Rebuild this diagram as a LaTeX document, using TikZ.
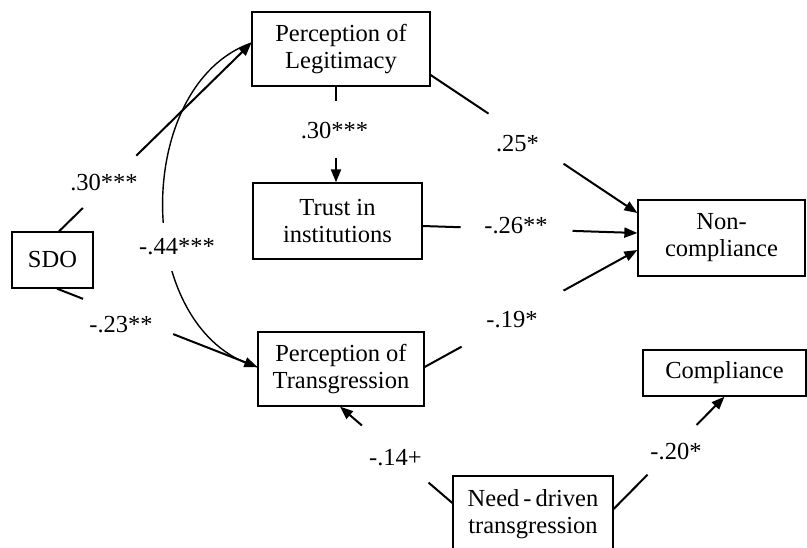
\documentclass[tikz,border=0pt]{standalone}
\usepackage{fontspec}
\setmainfont{Liberation Serif}
\usetikzlibrary{arrows.meta,calc}
\begin{document}
\begin{tikzpicture}[x=1pt,y=-1pt,
  box/.style={draw,line width=1.3pt,inner sep=0pt,align=center,font=\fontsize{24.5}{27}\selectfont},
  lab/.style={inner sep=0pt,font=\fontsize{24.5}{27}\selectfont},
  conn/.style={line width=2pt},
  arr/.style={line width=2pt,-{Triangle[length=13pt,width=10pt]}},
  curv/.style={line width=1.4pt},
]
\fill[white] (0,0) rectangle (807,547);
\path[use as bounding box] (0,0) rectangle (807,547);
\clip (0,0) rectangle (807,547);

% boxes
\node[box,minimum width=178pt,minimum height=74pt] (leg) at (341,49) {Perception of\\Legitimacy};
\node[box,minimum width=169pt,minimum height=76pt] (trust) at (337.5,221) {Trust in\\institutions};
\node[box,minimum width=167pt,minimum height=76pt] (nc) at (721.5,238) {Non-\\compliance};
\node[box,minimum width=81pt,minimum height=56pt] (sdo) at (52.5,260) {SDO};
\node[box,minimum width=166pt,minimum height=74pt] (trans) at (341,369) {Perception of\\Transgression};
\node[box,minimum width=163pt,minimum height=46pt] (comp) at (724.5,373) {Compliance};
\node[box,minimum width=160pt,minimum height=76pt] (need) at (533,514) {Need\,-\,driven\\transgression};

% end points
\coordinate (a1) at ($(sdo.north)+(6.5,0)$);
\coordinate (b1) at ($(leg.west)+(0,-6)$);
\coordinate (a3) at ($(sdo.south)+(4.5,0)$);
\coordinate (b3) at ($(trans.west)+(0,-2)$);
\coordinate (a4) at ($(leg.south)+(-5,0)$);
\coordinate (b4) at ($(trust.north)+(-1.5,0)$);
\coordinate (a5) at ($(leg.east)+(0,26)$);
\coordinate (b5) at ($(nc.west)+(0,-25)$);
\coordinate (a6) at ($(trust.east)+(0,5)$);
\coordinate (b6) at ($(nc.west)+(0,-5)$);
\coordinate (a7) at ($(trans.east)+(0,-2)$);
\coordinate (b7) at ($(nc.west)+(0,12)$);
\coordinate (a8) at ($(need.west)+(0,-11)$);
\coordinate (b8) at ($(trans.south)+(-1,0)$);
\coordinate (a9) at ($(need.east)+(0,-5)$);
\coordinate (b9) at (comp.south);

% gaps
\path (a1) -- (b1) coordinate[pos=0.124] (g1a) coordinate[pos=0.402] (g1b);
\path (a3) -- (b3) coordinate[pos=0.13] (g3a) coordinate[pos=0.58] (g3b);
\path (a4) -- (b4) coordinate[pos=0.155] (g4a) coordinate[pos=0.742] (g4b);
\path (a5) -- (b5) coordinate[pos=0.28] (g5a) coordinate[pos=0.643] (g5b);
\path (a6) -- (b6) coordinate[pos=0.177] (g6a) coordinate[pos=0.698] (g6b);
\path (a7) -- (b7) coordinate[pos=0.174] (g7a) coordinate[pos=0.653] (g7b);
\path (a8) -- (b8) coordinate[pos=0.212] (g8a) coordinate[pos=0.805] (g8b);
\path (a9) -- (b9) coordinate[pos=0.306] (g9a) coordinate[pos=0.748] (g9b);

% curved connector
\draw[curv] (b1) .. controls (132,85) and (132,331) .. (b3);
\node[lab,fill=white,minimum width=78pt,minimum height=48pt] (l2) at (177,247) {-.44***};

% straight connectors
\draw[conn] (a1) -- (g1a); \draw[arr] (g1b) -- (b1);
\draw[conn] (a3) -- (g3a); \draw[arr] (g3b) -- (b3);
\draw[conn] (a4) -- (g4a); \draw[arr] (g4b) -- (b4);
\draw[conn] (a5) -- (g5a); \draw[arr] (g5b) -- (b5);
\draw[conn] (a6) -- (g6a); \draw[arr] (g6b) -- (b6);
\draw[conn] (a7) -- (g7a); \draw[arr] (g7b) -- (b7);
\draw[conn] (a8) -- (g8a); \draw[arr] (g8b) -- (b8);
\draw[conn] (a9) -- (g9a); \draw[arr] (g9b) -- (b9);

% labels
\node[lab] (l1) at (104,183) {.30***};
\node[lab] (l3) at (121,325) {-.23**};
\node[lab] (l4) at (334.5,131) {.30***};
\node[lab] (l5) at (517.5,143.5) {.25*};
\node[lab] (l6) at (516,226) {-.26**};
\node[lab] (l7) at (512,320) {-.19*};
\node[lab] (l8) at (395.5,457.5) {-.14+};
\node[lab] (l9) at (676,452) {-.20*};
\end{tikzpicture}
\end{document}
